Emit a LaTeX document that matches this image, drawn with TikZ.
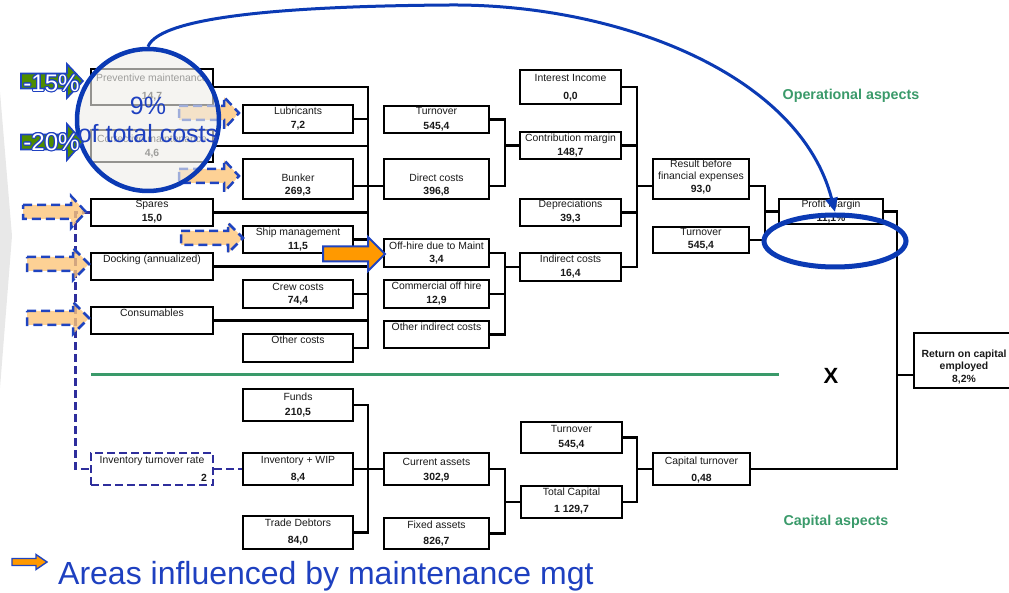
\documentclass[tikz,border=0pt]{standalone}
\usepackage{fontspec}
\setmainfont{Liberation Sans}
\usetikzlibrary{arrows.meta,shapes.geometric}

\definecolor{lensblue}{HTML}{0B3AB4}
\definecolor{txtblue}{HTML}{1E40C0}
\definecolor{arrblue}{HTML}{1F44C0}
\definecolor{navyline}{HTML}{2E2E9C}
\definecolor{aspgreen}{HTML}{3A9A6A}
\definecolor{softorange}{HTML}{FDC57A}
\definecolor{hotorange}{HTML}{FF9900}
\definecolor{pctgreen}{HTML}{4E8C00}
\definecolor{lensfill}{HTML}{EFEEEA}
\definecolor{backgray}{HTML}{E8E8E8}
\definecolor{inktext}{HTML}{1A1A1A}

% box with a label line near the top and an optional bold value near the bottom
\newcommand\bx[9]{%
  \pgfmathsetmacro\bxw{#4-#2}%
  \pgfmathsetmacro\bxh{#5-#3}%
  \pgfmathsetmacro\bxc{(#2+#4)/2}%
  \node[box,minimum width=\bxw pt,minimum height=\bxh pt] (#1) at ({(#2+#4)/2},{(#3+#5)/2}) {};
  \node[lbl] (#1-l) at (\bxc,#6) {#8};
  \if\relax\detokenize{#9}\relax\else
    \node[val] (#1-v) at (\bxc,#7) {#9};
  \fi
}

% flat block arrow: style, tail x, head start x, tip x, centre y, body half height, head half height
\newcommand\blockarrow[7]{%
  \draw[#1] (#2,#5-#6) -- (#3,#5-#6) -- (#3,#5-#7) -- (#4,#5) -- (#3,#5+#7) -- (#3,#5+#6) -- (#2,#5+#6) -- cycle;
}

% white figure with a blue outline
\newcommand\outlined[4]{%
  \foreach \a [count=\k] in {0,30,...,330}
    \node[pct,text=txtblue] (#1-o\k) at ([shift={(\a:1.1pt)}]#2,#3) {#4};
  \node[pct,text=white] (#1) at (#2,#3) {#4};
}

\begin{document}
\begin{tikzpicture}[x=1pt,y=-1pt,
  box/.style={draw=black,line width=2.9pt,inner sep=0pt,fill=white},
  lbl/.style={font=\fontsize{10.4}{12.4}\selectfont,text=inktext,inner sep=0pt,align=center},
  val/.style={font=\fontsize{10.4}{12.4}\selectfont\bfseries,text=inktext,inner sep=0pt},
  wire/.style={draw=black,line width=2.8pt,line join=miter},
  navydash/.style={draw=navyline,line width=2.4pt,dash pattern=on 8pt off 4pt},
  itbox/.style={draw=navyline,line width=2.4pt,dash pattern=on 8pt off 4pt,inner sep=0pt,fill=white},
  softarr/.style={fill=softorange,fill opacity=0.8,draw=arrblue,draw opacity=1,line width=2.5pt,dash pattern=on 9pt off 5pt,line join=miter},
  hotarr/.style={fill=hotorange,draw=arrblue,line width=2pt,line join=miter},
  legarr/.style={fill=hotorange,draw=arrblue,line width=1.4pt,line join=miter},
  pctarr/.style={fill=pctgreen,draw=arrblue,line width=1.6pt,line join=miter},
  pct/.style={font=\fontsize{24}{26}\selectfont,inner sep=0pt},
  asp/.style={font=\fontsize{14.3}{16}\selectfont\bfseries,text=aspgreen,inner sep=0pt},
]
\useasboundingbox (0,0) rectangle (1009,593);

% faint chevron at the left edge
\fill[backgray] (0,92) -- (12,236) -- (0,388) -- cycle;

% bus positions
\coordinate (b1) at (368,0);
\coordinate (b2) at (505,0);
\coordinate (b3) at (637,0);
\coordinate (b4) at (765,0);
\coordinate (b5) at (897,0);
\coordinate (dv) at (75.5,0);

% separator between operational and capital aspects
\coordinate (sepL) at (91,375);
\coordinate (sepR) at (779,375);
\draw[draw=aspgreen,line width=3pt] (sepL) -- (sepR);

% ---------------- operational tree ----------------
\bx{pre}{91}{69}{213}{105}{78}{97}{Preventive maintenance}{14,7}
\bx{cor}{91}{130}{213}{162}{139}{154}{Corrective maintenance}{4,6}
\bx{spa}{91}{199}{213}{226}{205}{219}{Spares}{15,0}
\bx{doc}{91}{253}{213}{280}{260}{}{Docking (annualized)}{}
\bx{con}{91}{307}{213}{334}{313}{}{Consumables}{}

\bx{lub}{243}{105}{353}{133}{111}{126}{Lubricants}{7,2}
\bx{bun}{243}{159}{353}{199}{178}{192}{Bunker}{269,3}
\bx{shp}{243}{226}{353}{253}{233}{247}{Ship management}{11,5}
\bx{crw}{243}{280}{353}{308}{287}{301}{Crew costs}{74,4}
\bx{oth}{243}{334}{353}{362}{340}{}{Other costs}{}

\bx{tu1}{384}{106}{489}{133}{111}{127}{Turnover}{545,4}
\bx{dir}{384}{159}{489}{199}{178}{192}{Direct costs}{396,8}
\bx{ofh}{384}{239}{489}{267}{246}{260}{Off-hire due to Maint}{3,4}
\bx{com}{384}{280}{489}{308}{286}{301}{Commercial off hire}{12,9}
\bx{oic}{384}{321}{489}{348}{327}{}{Other indirect costs}{}

\bx{ii}{520}{70}{621}{104}{78}{97}{Interest Income}{0,0}
\bx{cm}{520}{132}{621}{159}{139}{153}{Contribution margin}{148,7}
\bx{dep}{520}{199}{621}{226}{205}{219}{Depreciations}{39,3}
\bx{ind}{520}{253}{621}{281}{259}{274}{Indirect costs}{16,4}

\bx{rbf}{653}{159}{749}{199}{171}{190}{Result before\\financial expenses}{93,0}
\bx{tu2}{653}{227}{749}{253}{232}{246}{Turnover}{545,4}
\bx{pm}{779}{199}{883}{224}{205}{219}{Profit margin}{11,1\%}
\bx{roce}{914}{333}{1014}{388}{361}{380}{\textbf{Return on capital}\\\textbf{employed}}{8,2\%}

% cost bus
\draw[wire] (pre.east) -- (pre.east -| b1) -- (oth.east -| b1) -- (oth.east);
\draw[wire] (lub.east) -- (lub.east -| b1);
\draw[wire] (cor.east) -- (cor.east -| b1);
\draw[wire] ([yshift=-7pt]bun.east) -- ([yshift=-7pt]dir.west);
\draw[wire] (spa.east) -- (spa.east -| b1);
\draw[wire] (shp.east) -- (shp.east -| b1);
\draw[wire] (doc.east) -- (doc.east -| b1);
\draw[wire] (crw.east) -- (crw.east -| b1);
\draw[wire] (con.east) -- (con.east -| b1);

% contribution margin and indirect costs
\draw[wire] (tu1.east) -- (tu1.east -| b2) -- ([yshift=-7pt]dir.east -| b2) -- ([yshift=-7pt]dir.east);
\draw[wire] (cm.west -| b2) -- (cm.west);
\draw[wire] (ofh.east) -- (ofh.east -| b2) -- (oic.east -| b2) -- (oic.east);
\draw[wire] (com.east) -- (com.east -| b2);
\draw[wire] (ind.west -| b2) -- (ind.west);

% result before financial expenses
\draw[wire] (ii.east) -- (ii.east -| b3) -- (ind.east -| b3) -- (ind.east);
\draw[wire] (cm.east) -- (cm.east -| b3);
\draw[wire] (dep.east) -- (dep.east -| b3);
\draw[wire] ([yshift=-7pt]rbf.west -| b3) -- ([yshift=-7pt]rbf.west);

% profit margin
\draw[wire] ([yshift=-7pt]rbf.east) -- ([yshift=-7pt]rbf.east -| b4) -- (tu2.east -| b4) -- (tu2.east);
\draw[wire] (pm.west -| b4) -- (pm.west);

% ---------------- capital tree ----------------
\bx{fun}{243}{389}{353}{421}{397}{413}{Funds}{210,5}
\bx{inv}{243}{453}{353}{485}{461}{478}{Inventory + WIP}{8,4}
\bx{tde}{243}{516}{353}{549}{523}{541}{Trade Debtors}{84,0}
\bx{cur}{384}{453}{489}{485}{462}{478}{Current assets}{302,9}
\bx{fix}{384}{518}{489}{549}{525}{542}{Fixed assets}{826,7}
\bx{tu3}{521}{422}{622}{453}{429}{445}{Turnover}{545,4}
\bx{tca}{521}{486}{622}{518}{493}{510}{Total Capital}{1 129,7}
\bx{ct}{653}{453}{750}{485}{462}{479}{Capital turnover}{0,48}

\draw[wire] (fun.east) -- (fun.east -| b1) -- (tde.east -| b1) -- (tde.east);
\draw[wire] (inv.east) -- (cur.west);
\draw[wire] (cur.east) -- (cur.east -| b2) -- (fix.east -| b2) -- (fix.east);
\draw[wire] (tca.west -| b2) -- (tca.west);
\draw[wire] (tu3.east) -- (tu3.east -| b3) -- (tca.east -| b3) -- (tca.east);
\draw[wire] (ct.west -| b3) -- (ct.west);

% return on capital employed
\draw[wire] (pm.east) -- (pm.east -| b5) -- (ct.east -| b5) -- (ct.east);
\draw[wire] ([yshift=-14.5pt]roce.west -| b5) -- ([yshift=-14.5pt]roce.west);

% inventory turnover rate, linked by dashed lines
\node[itbox,minimum width=122pt,minimum height=32pt] (itb) at (152,469) {};
\node[lbl] (itb-l) at (152,461) {Inventory turnover rate};
\node[val,anchor=east] (itb-v) at (207,478) {2};
\draw[navydash] (spa.west) -- (spa.west -| dv) -- (itb.west -| dv) -- (itb.west);
\draw[navydash] (itb.east) -- (inv.west);

% areas influenced by maintenance
\blockarrow{softarr}{23}{71}{86}{212}{7}{16}
\blockarrow{softarr}{27}{73}{89}{264}{7}{16}
\blockarrow{softarr}{27}{73}{89}{318}{7}{16}
\blockarrow{softarr}{179}{224}{239}{113}{7}{16}
\blockarrow{softarr}{179}{224}{239}{176}{7}{16}
\blockarrow{softarr}{181}{228}{243}{238}{7}{15}
\blockarrow{hotarr}{323}{368}{385}{254}{7.5}{17}

% magnifying lens over the maintenance boxes
\node[circle,minimum size=142pt,inner sep=0pt,fill=lensfill,fill opacity=0.62,draw=lensblue,draw opacity=1,line width=4.5pt] (mag) at (148,120) {};
\node[font=\fontsize{25}{28}\selectfont,text=txtblue,inner sep=0pt] (nine) at (148,106) {9\%};
\node[font=\fontsize{25}{28}\selectfont,text=txtblue,inner sep=0pt] (share) at (148,134) {of total costs};

\blockarrow{pctarr}{21}{67}{83}{81}{7.5}{17}
\blockarrow{pctarr}{21}{67}{83}{142}{7.5}{18}
\outlined{p15}{51.5}{83}{-15\%}
\outlined{p20}{51.5}{142}{-20\%}

% link from the lens to the profit margin
\coordinate (pmhit) at (835,212);
\draw[draw=lensblue,line width=3pt,-{Triangle[width=12pt,length=14pt]}]
  (mag.north) .. controls (160,15) and (300,6) .. (450,5) .. controls (620,4) and (800,75) .. (pmhit);
\node[ellipse,draw=lensblue,line width=5pt,minimum width=142pt,minimum height=52pt,inner sep=0pt] (pmring) at (835,241) {};

% annotations
\node[asp] (opa) at (851,96) {Operational aspects};
\node[asp] (capa) at (836,522) {Capital aspects};
\node[font=\fontsize{22}{24}\selectfont\bfseries,inner sep=0pt] (mult) at (831,376) {X};

% legend
\blockarrow{legarr}{12}{36}{47}{562}{3.5}{7.5}
\node[font=\fontsize{32}{36}\selectfont,text=txtblue,inner sep=0pt,anchor=base west] (legend) at (58,584) {Areas influenced by maintenance mgt};
\end{tikzpicture}
\end{document}
